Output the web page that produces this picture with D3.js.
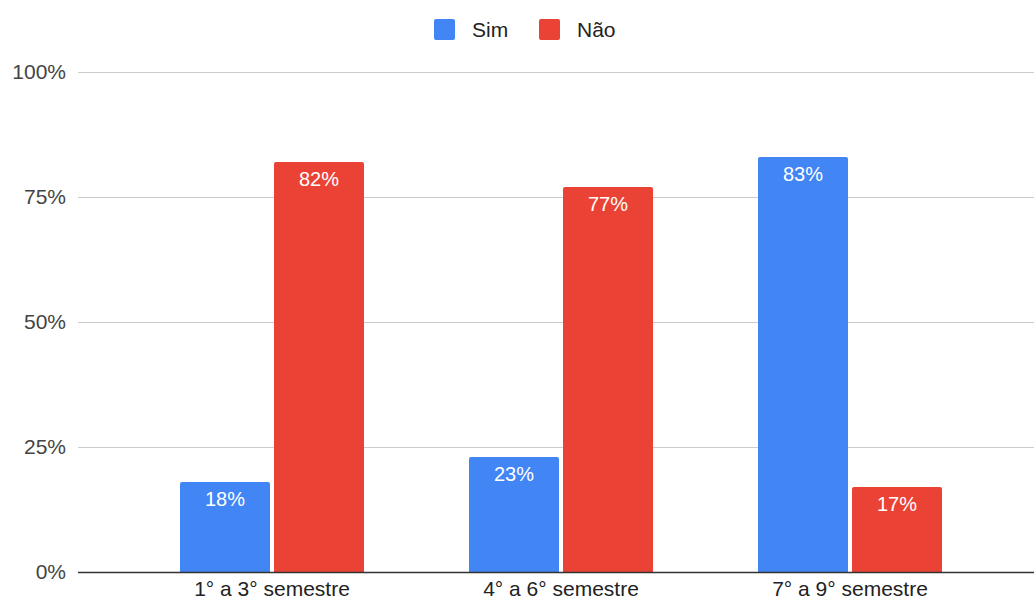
<!DOCTYPE html>
<html>
<head>
<meta charset="utf-8">
<script src="https://cdn.jsdelivr.net/npm/d3@7"></script>
<style>
  body { margin: 0; background: #fff; }
  text { font-family: "Liberation Sans", Arial, sans-serif; }
</style>
</head>
<body>
<svg id="chart" width="1034" height="601"></svg>
<script>
// data
const categories = ["1° a 3° semestre", "4° a 6° semestre", "7° a 9° semestre"];
const seriesNames = ["Sim", "Não"];
const sim = [18, 23, 83];
const nao = [82, 77, 17];
const yTicks = [0, 25, 50, 75, 100];

const colors = { "Sim": "#4285F4", "Não": "#EA4335" };
const values = { "Sim": sim, "Não": nao };

const svg = d3.select("#chart");

const y = d3.scaleLinear().domain([0, 100]).range([572, 72]);
const x0 = d3.scaleBand().domain(categories).range([127.5, 994.5]);
const x1 = d3.scaleBand().domain(seriesNames).range([0, 184]).paddingInner(4 / 94);

// gridlines
svg.append("g")
  .selectAll("line")
  .data(yTicks.filter(d => d > 0))
  .join("line")
  .attr("x1", 78).attr("x2", 1034)
  .attr("y1", d => y(d) + 0.5).attr("y2", d => y(d) + 0.5)
  .attr("stroke", "#cccccc");

// y labels
svg.append("g")
  .selectAll("text")
  .data(yTicks)
  .join("text")
  .attr("x", 66)
  .attr("y", d => y(d))
  .attr("dy", "0.35em")
  .attr("text-anchor", "end")
  .attr("font-size", 21)
  .attr("fill", "#444")
  .text(d => d + "%");

// rounded-top bar path
function barPath(x, yTop, w, h, r) {
  return `M${x},${yTop + h}V${yTop + r}Q${x},${yTop} ${x + r},${yTop}` +
    `H${x + w - r}Q${x + w},${yTop} ${x + w},${yTop + r}V${yTop + h}Z`;
}

const groups = svg.append("g")
  .selectAll("g")
  .data(categories)
  .join("g")
  .attr("transform", c => `translate(${x0(c) + x0.bandwidth() / 2 - 92},0)`);

const bars = groups.selectAll("g")
  .data((c, i) => seriesNames.map(s => ({ s, v: values[s][i] })))
  .join("g");

bars.append("path")
  .attr("d", d => barPath(x1(d.s), y(d.v), x1.bandwidth(), y(0) - y(d.v), 2))
  .attr("fill", d => colors[d.s]);

bars.append("text")
  .attr("x", d => x1(d.s) + x1.bandwidth() / 2)
  .attr("y", d => y(d.v) + 24)
  .attr("text-anchor", "middle")
  .attr("font-size", 20)
  .attr("fill", "#fff")
  .text(d => d.v + "%");

// baseline
svg.append("line")
  .attr("x1", 78).attr("x2", 1034)
  .attr("y1", y(0) + 0.5).attr("y2", y(0) + 0.5)
  .attr("stroke", "#333").attr("stroke-width", 1.5);

// category labels
svg.append("g")
  .selectAll("text")
  .data(categories)
  .join("text")
  .attr("x", c => x0(c) + x0.bandwidth() / 2)
  .attr("y", 596)
  .attr("text-anchor", "middle")
  .attr("font-size", 21)
  .attr("fill", "#222")
  .text(c => c);

// legend
const legendX = [434, 539];
const legend = svg.append("g")
  .selectAll("g")
  .data(seriesNames)
  .join("g")
  .attr("transform", (d, i) => `translate(${legendX[i]},19)`);

legend.append("rect")
  .attr("width", 21).attr("height", 21).attr("rx", 2)
  .attr("fill", d => colors[d]);

legend.append("text")
  .attr("x", 38).attr("y", 10.5)
  .attr("dy", "0.35em")
  .attr("font-size", 21)
  .attr("fill", "#222")
  .text(d => d);
</script>
</body>
</html>
